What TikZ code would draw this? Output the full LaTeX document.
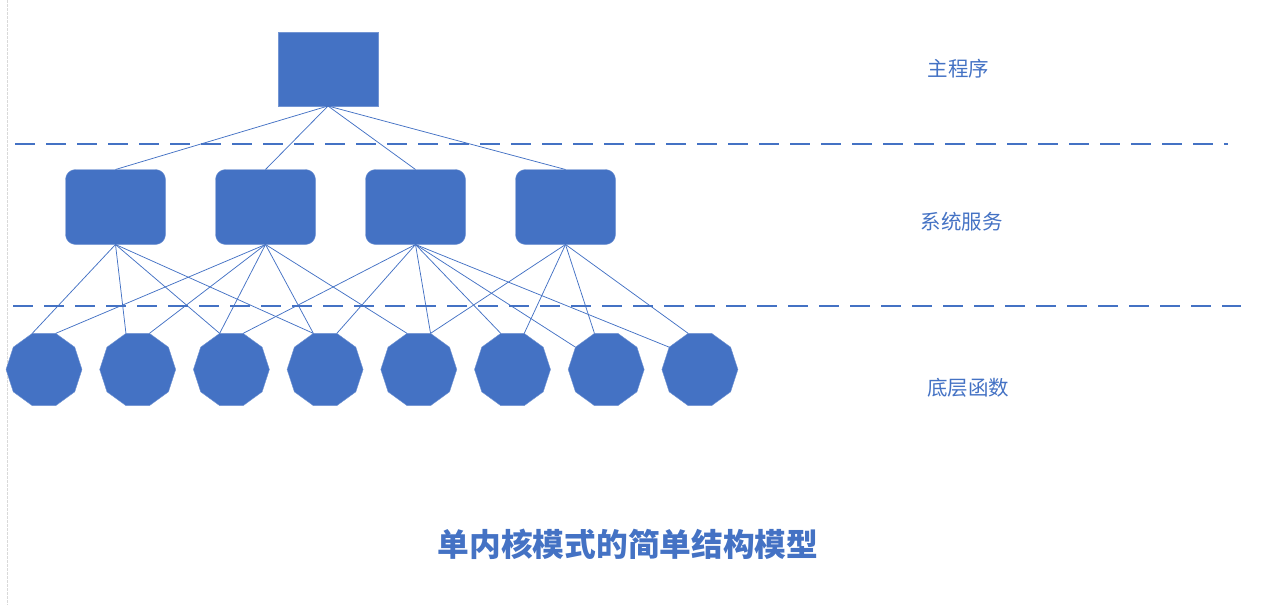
\documentclass[tikz,border=0pt]{standalone}
\usepackage{fontspec}
\newfontfamily\cjk{Noto Sans CJK SC}
\usetikzlibrary{positioning,shapes.geometric}
\definecolor{ofblue}{HTML}{4472C4}

\begin{document}
\begin{tikzpicture}[x=1pt, y=-1pt, node distance=17.7pt,
	prog/.style={fill=ofblue, draw=ofblue!75!white, minimum width=100pt, minimum height=74pt, inner sep=0pt, outer sep=0pt},
	serv/.style={prog, rounded corners=10pt, minimum height=75pt},
	func/.style={regular polygon, regular polygon sides=10, fill=ofblue, draw=ofblue!75!white, minimum size=76pt, inner sep=0pt, outer sep=0pt},
	link/.style={draw=ofblue, line width=0.75pt},
	sep/.style={draw=ofblue, line width=1.6pt, dash pattern=on 20pt off 11pt},
	lbl/.style={text=ofblue, font=\cjk\fontsize{20.5pt}{24pt}\selectfont}]
		\useasboundingbox (0,0) rectangle (1263,605);
		\draw[black!15, line width=0.8pt, dash pattern=on 3pt off 1pt] (7,0) -- (7,605);
		
		\node[prog] (main) at (328,69) {};
		
		\node[serv] (s1) at (115.5,207) {};
		\node[serv] (s2) [right=50pt of s1] {};
		\node[serv] (s3) [right=50pt of s2] {};
		\node[serv] (s4) [right=50pt of s3] {};
		
		\node[func] (f1) at (44,369.5) {};
		\node[func] (f2) [right=of f1] {};
		\node[func] (f3) [right=of f2] {};
		\node[func] (f4) [right=of f3] {};
		\node[func] (f5) [right=of f4] {};
		\node[func] (f6) [right=of f5] {};
		\node[func] (f7) [right=of f6] {};
		\node[func] (f8) [right=of f7] {};
		
		\draw[sep] (15,144) -- (1228,144);
		\draw[sep] (13,306) -- (1241,306);
		
		% 108 = top left corner, 72 = top right corner
		\foreach \s in {s1,s2,s3,s4}
			\draw[link] (main.south) -- (\s.north);
		\foreach \f/\a in {f1/108,f2/108,f3/108,f4/108}
			\draw[link] (s1.south) -- (\f.\a);
		\foreach \f/\a in {f1/72,f2/72,f3/108,f4/108,f5/108}
			\draw[link] (s2.south) -- (\f.\a);
		\foreach \f/\a in {f3/72,f4/72,f5/72,f6/108,f7/144,f8/144}
			\draw[link] (s3.south) -- (\f.\a);
		\foreach \f/\a in {f5/72,f6/72,f7/108,f8/108}
			\draw[link] (s4.south) -- (\f.\a);
		
		\node[lbl] (l1) at (958.5,69) {主程序};
		\node[lbl] (l2) at (961.5,222) {系统服务};
		\node[lbl] (l3) at (968,387.5) {底层函数};
		\node[lbl, font=\cjk\bfseries\fontsize{31.7pt}{36pt}\selectfont] (title) at (628,544.5) {单内核模式的简单结构模型};
	\end{tikzpicture}
\end{document}
